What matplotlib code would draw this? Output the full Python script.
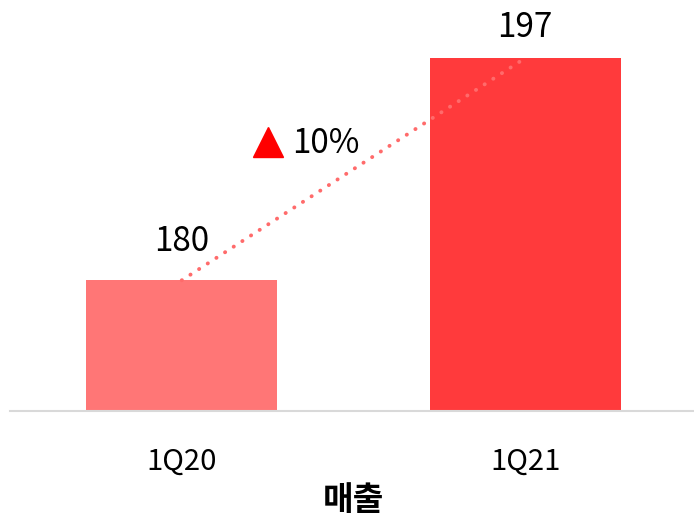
import matplotlib
matplotlib.use("Agg")
import matplotlib.pyplot as plt

plt.rcParams['font.family'] = ['Noto Sans CJK KR', 'DejaVu Sans']

categories = ["1Q20", "1Q21"]
values = [180, 197]
growth_label = "10%"
xlabel = "매출"
bar_colors = ["#FF7676", "#FF3A3C"]
label_offsets_px = [29, 21]

fig = plt.figure(figsize=(6.94, 5.2), dpi=100)
ax = fig.add_axes([10/694, 109/520, 687/694, 411/520])

x = list(range(len(categories)))
ax.bar(x, values, width=0.556, color=bar_colors, zorder=2)
ax.plot(x, values, linestyle=(0, (0.05, 2.6)), color="#FF6B6B", linewidth=2.8,
        zorder=3, dash_capstyle='round', solid_capstyle='round')

for xi, v, off in zip(x, values, label_offsets_px):
    ax.annotate(f"{v}", (xi, v), xytext=(0, off * 0.72), textcoords="offset points",
                ha="center", va="baseline", fontsize=24, color="black")

ax.set_xlim(-0.5, 1.5)
ax.set_ylim(170, 201.44)

# growth annotation
ax.plot([0.25], [190.6], marker="^", markersize=21, color="#FF0000",
        linestyle="none", zorder=4, clip_on=False)
ax.text(0.322, 190.45, growth_label, ha="left", va="center", fontsize=24, color="black")

ax.set_xticks(x)
ax.set_xticklabels(categories, fontsize=21)
ax.tick_params(axis="x", length=0, pad=26)
ax.set_yticks([])
for s in ["top", "right", "left"]:
    ax.spines[s].set_visible(False)
ax.spines["bottom"].set_color("#D9D9D9")
ax.spines["bottom"].set_linewidth(1.5)
ax.set_xlabel(xlabel, fontsize=24, fontweight="bold", labelpad=5)

fig.savefig("out.png", dpi=100)
